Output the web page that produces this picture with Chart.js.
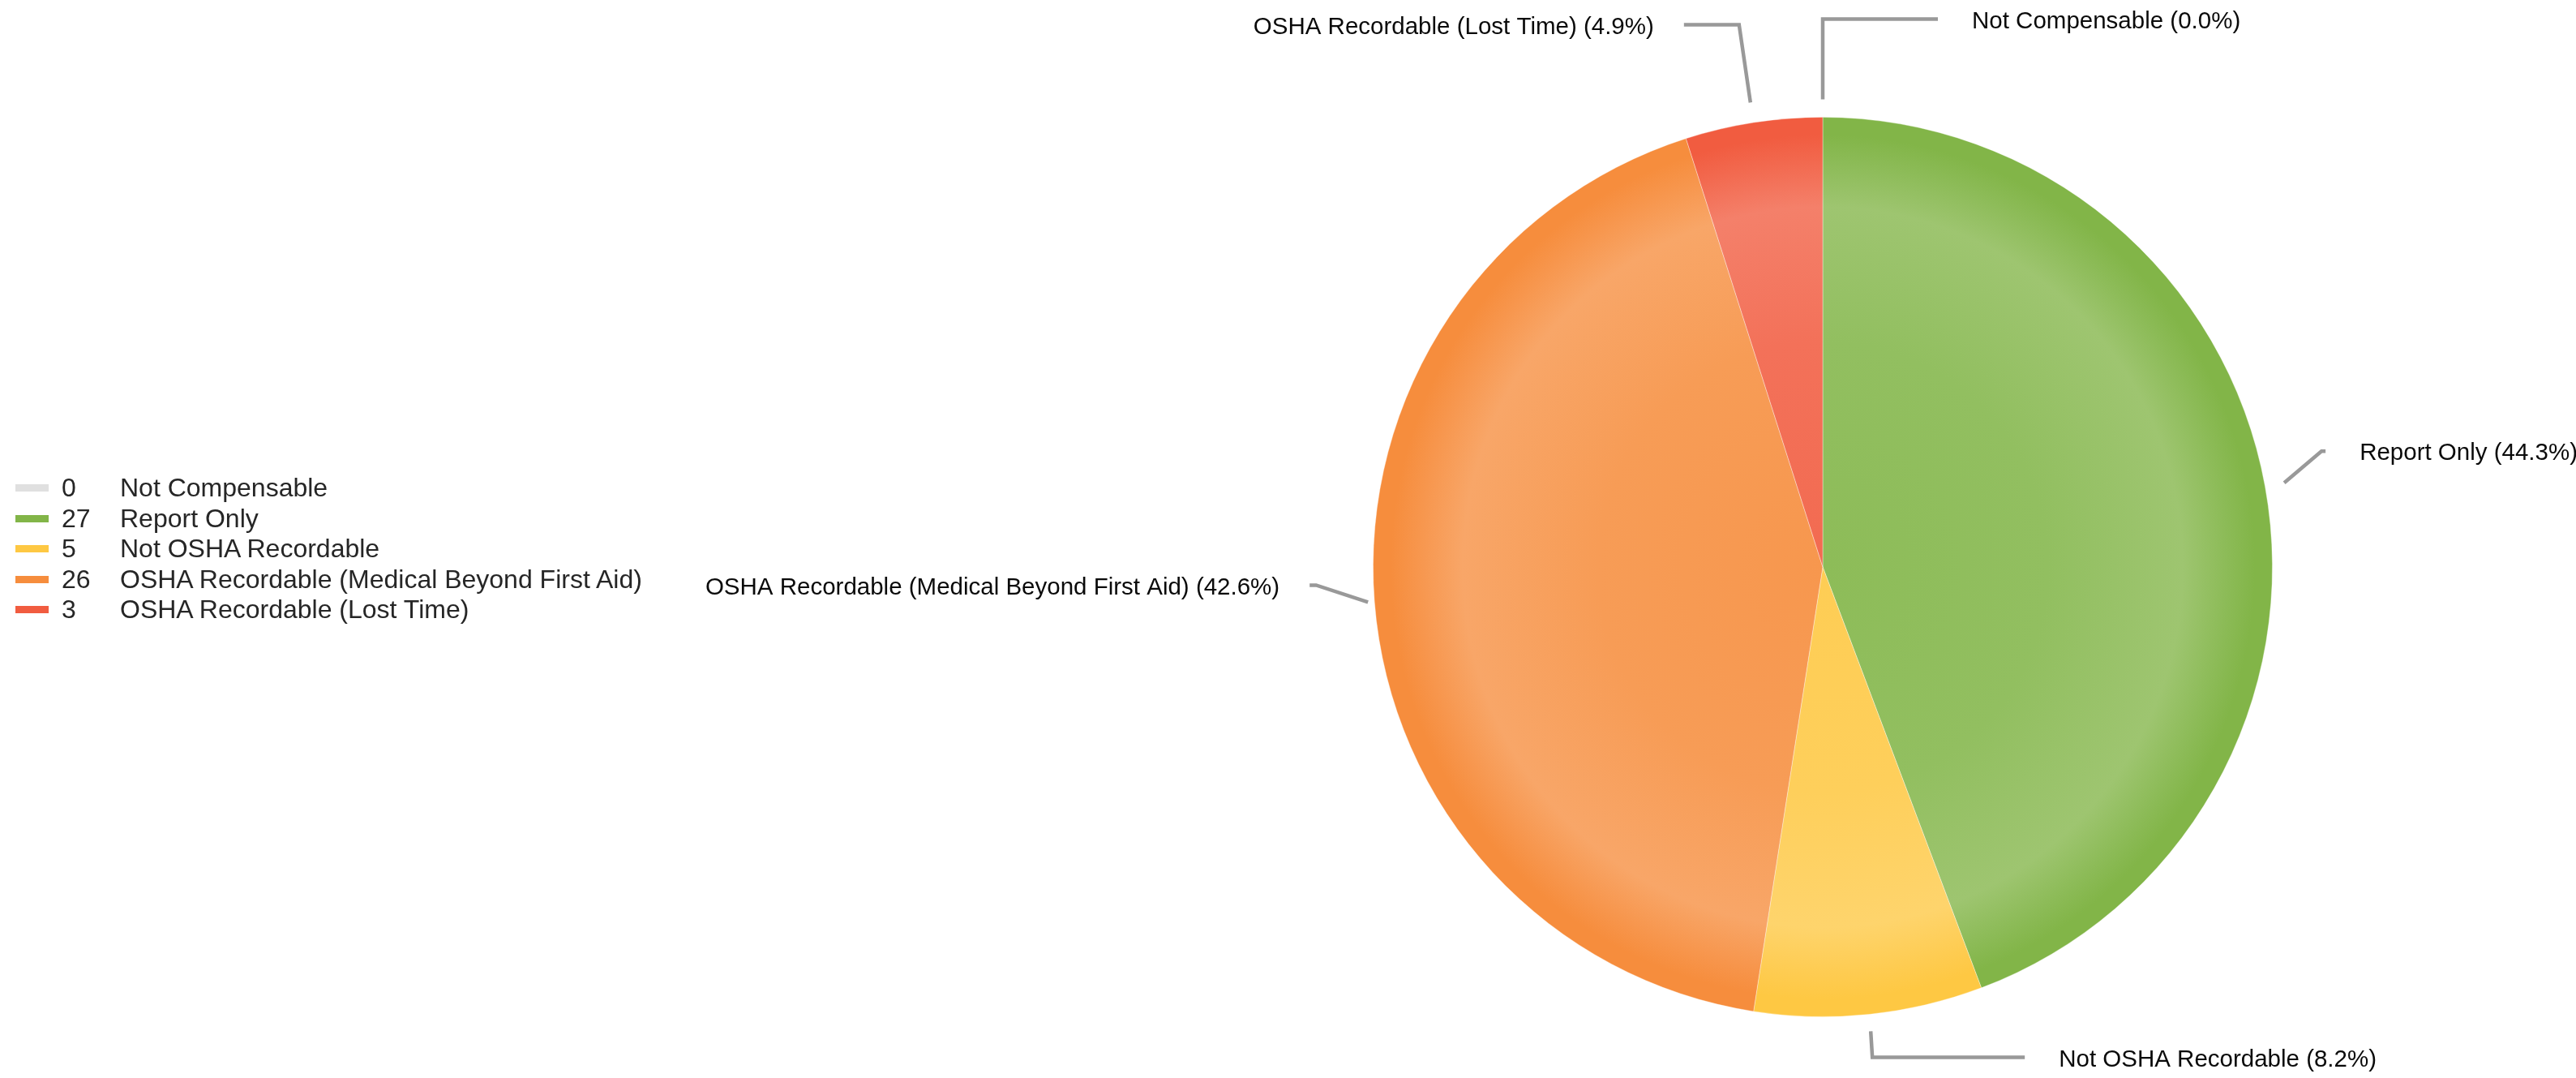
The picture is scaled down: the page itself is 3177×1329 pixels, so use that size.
<!DOCTYPE html>
<html>
<head>
<meta charset="utf-8">
<script src="https://cdn.jsdelivr.net/npm/chart.js@4/dist/chart.umd.min.js"></script>
<style>
  html, body { margin: 0; padding: 0; background: #ffffff; }
  #wrap { position: relative; width: 3177px; height: 1329px; }
  #legend { position: absolute; left: 19px; top: 583px; font-family: "Liberation Sans", Arial, sans-serif; font-size: 32px; color: #262626; }
  .row { display: flex; align-items: center; height: 37.5px; white-space: nowrap; }
  .sw { width: 41px; height: 9px; margin-right: 16px; }
  .val { width: 72px; }
</style>
</head>
<body>
<div id="wrap">
  <canvas id="c"></canvas>
  <div id="legend"></div>
</div>
<script>
// ---- data ----
const categories = [
  'Not Compensable',
  'Report Only',
  'Not OSHA Recordable',
  'OSHA Recordable (Medical Beyond First Aid)',
  'OSHA Recordable (Lost Time)'
];
const counts = [0, 27, 5, 26, 3];

// ---- styles ----
const baseColors = ['#e0e0e0', '#82b548', '#fec843', '#f68d3d', '#f15c40'];
// label layout: gap from pie edge to leader start, elbow offset, tail length
const labelAnchorGap = [22, 24, 21, 8, 25];
const labelElbow = [[0, -99], [46, -39], [2, 32], [-64, -21], [-14, -96]];
const labelTail = [142, 5, 188, -8, -68];

function mixWhite(hex, t) {
  const n = parseInt(hex.slice(1), 16);
  const r = (n >> 16) & 255, g = (n >> 8) & 255, b = n & 255;
  const m = v => Math.round(v + (255 - v) * t);
  return 'rgb(' + m(r) + ',' + m(g) + ',' + m(b) + ')';
}

function sliceFill(ctx) {
  const chart = ctx.chart;
  const base = baseColors[ctx.dataIndex];
  const a = chart.chartArea;
  if (!a) return base;
  const cx = (a.left + a.right) / 2, cy = (a.top + a.bottom) / 2;
  const r = Math.min(a.right - a.left, a.bottom - a.top) / 2;
  const g = chart.ctx.createRadialGradient(cx, cy, 0, cx, cy, r);
  g.addColorStop(0, mixWhite(base, 0.09));
  g.addColorStop(0.5, mixWhite(base, 0.13));
  g.addColorStop(0.8, mixWhite(base, 0.22));
  g.addColorStop(0.9, mixWhite(base, 0.08));
  g.addColorStop(0.96, base);
  g.addColorStop(1, base);
  return g;
}

const total = counts.reduce((s, v) => s + v, 0);

// HTML legend
const legendEl = document.getElementById('legend');
categories.forEach((name, i) => {
  const row = document.createElement('div');
  row.className = 'row';
  row.innerHTML = '<div class="sw" style="background:' + baseColors[i] + '"></div>' +
    '<div class="val">' + counts[i] + '</div><div>' + name + '</div>';
  legendEl.appendChild(row);
});

const leaderLabels = {
  id: 'leaderLabels',
  afterDatasetsDraw(chart) {
    const ctx = chart.ctx;
    const meta = chart.getDatasetMeta(0);
    ctx.save();
    ctx.strokeStyle = '#999999';
    ctx.lineWidth = 4.5;
    ctx.lineJoin = 'miter';
    ctx.font = '29.5px "Liberation Sans", Arial, sans-serif';
    ctx.fillStyle = '#0a0a0a';
    ctx.textBaseline = 'middle';
    meta.data.forEach((arc, i) => {
      const p = arc.getProps(['x', 'y', 'startAngle', 'endAngle', 'outerRadius'], true);
      const mid = (p.startAngle + p.endAngle) / 2;
      const R = p.outerRadius + labelAnchorGap[i];
      const ax = p.x + Math.cos(mid) * R;
      const ay = p.y + Math.sin(mid) * R;
      const ex = ax + labelElbow[i][0];
      const ey = ay + labelElbow[i][1];
      const tx = ex + labelTail[i];
      ctx.beginPath();
      ctx.moveTo(ax, ay);
      ctx.lineTo(ex, ey);
      ctx.lineTo(tx, ey);
      ctx.stroke();
      const pct = total ? (counts[i] / total * 100).toFixed(1) : '0.0';
      const text = categories[i] + ' (' + pct + '%)';
      const right = labelTail[i] >= 0;
      ctx.textAlign = right ? 'left' : 'right';
      ctx.fillText(text, tx + (right ? 42 : -37), ey + 3);
    });
    ctx.restore();
  }
};

new Chart(document.getElementById('c'), {
  type: 'pie',
  data: {
    labels: categories,
    datasets: [{
      data: counts,
      backgroundColor: sliceFill,
      borderWidth: 1,
      borderColor: 'rgba(255,255,255,0.35)'
    }]
  },
  options: {
    responsive: true,
    maintainAspectRatio: false,
    animation: false,
    layout: { padding: { left: 1693, right: 374, top: 144, bottom: 75 } },
    plugins: {
      legend: { display: false },
      tooltip: { enabled: false }
    }
  },
  plugins: [leaderLabels]
});
</script>
</body>
</html>
